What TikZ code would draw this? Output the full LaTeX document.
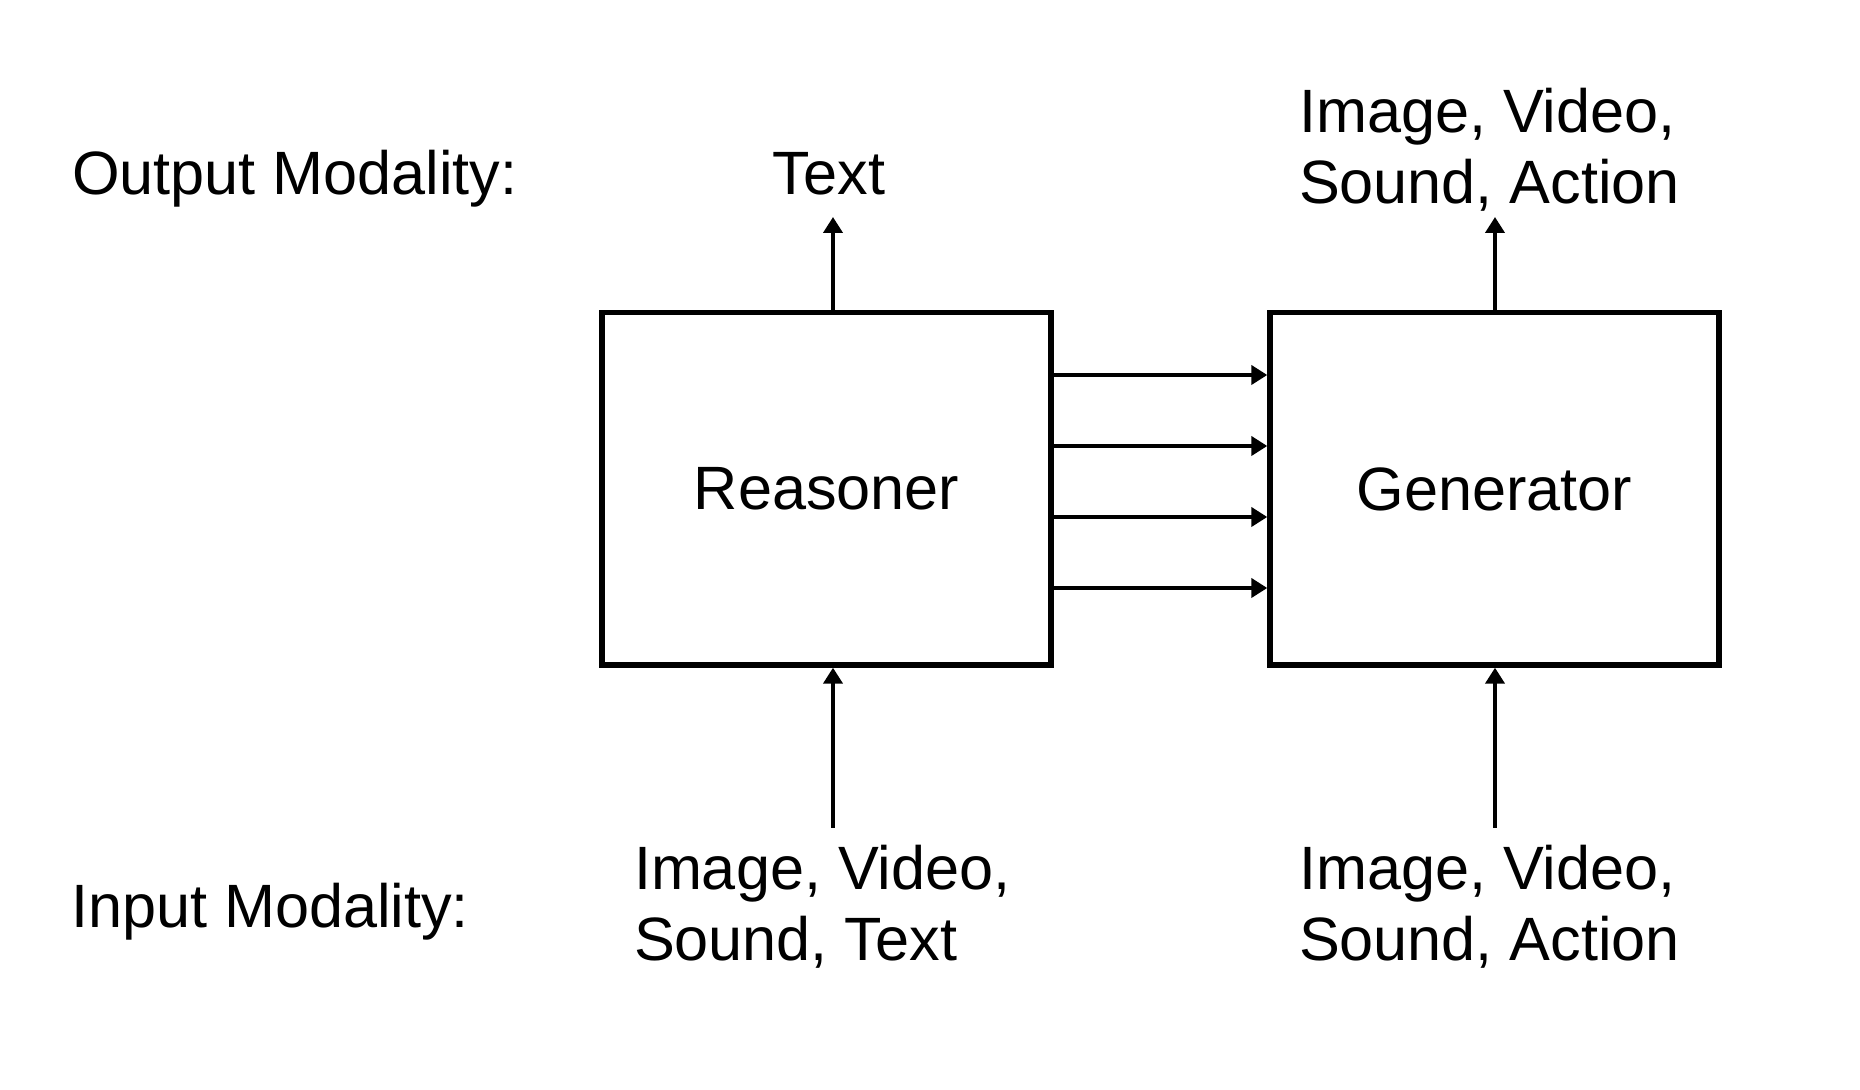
\documentclass[tikz,border=0pt]{standalone}
\usepackage{fontspec}
\setmainfont{Liberation Sans}
\usetikzlibrary{arrows.meta}
\tikzset{
  blockbox/.style={draw=black, line width=2.7pt, minimum width=224.5pt, minimum height=176.25pt, inner sep=0pt, text depth=0pt},
  lbl/.style={inner sep=0pt, outer sep=0pt},
  mlbl/.style={inner sep=0pt, outer sep=0pt, align=left, anchor=north west},
  arr/.style={line width=2.2pt, -{Triangle[length=8pt, width=9.5pt]}}
}
\begin{document}
\begin{tikzpicture}[x=0.5pt, y=-0.5pt, font=\fontsize{30.6pt}{35.75pt}\selectfont]
\useasboundingbox[fill=white] (0,0) rectangle (1860,1090);
% blocks
\node[blockbox] (r) at (826.5,488.75) {Reasoner};
\node[blockbox] (g) at (1494.5,488.75) {Generator};
% row labels
\node[lbl, anchor=base west] (outlab) at (72,195) {Output Modality:};
\node[lbl, anchor=base west] (inlab) at (71,928) {Input Modality:};
% output texts
\node[lbl, anchor=base] (rout) at (829,195) {Text};
\node[mlbl] (gout) at (1299,88) {Image, Video,\\Sound, Action};
% input texts
\node[mlbl] (rin) at (634,845) {Image, Video,\\Sound, Text};
\node[mlbl] (gin) at (1299,845) {Image, Video,\\Sound, Action};
% arrow end points
\coordinate (ro) at (833,217);
\coordinate (go) at (1495,217);
\coordinate (ri) at (833,828);
\coordinate (gi) at (1495,828);
% connectors
\draw[arr] (ro |- r.north) -- (ro);
\draw[arr] (go |- g.north) -- (go);
\draw[arr] (ri) -- (ri |- r.south);
\draw[arr] (gi) -- (gi |- g.south);
\foreach \yy in {375,446,517,588}
  \draw[arr] (r.east |- 0,\yy) -- (g.west |- 0,\yy);
\end{tikzpicture}
\end{document}
